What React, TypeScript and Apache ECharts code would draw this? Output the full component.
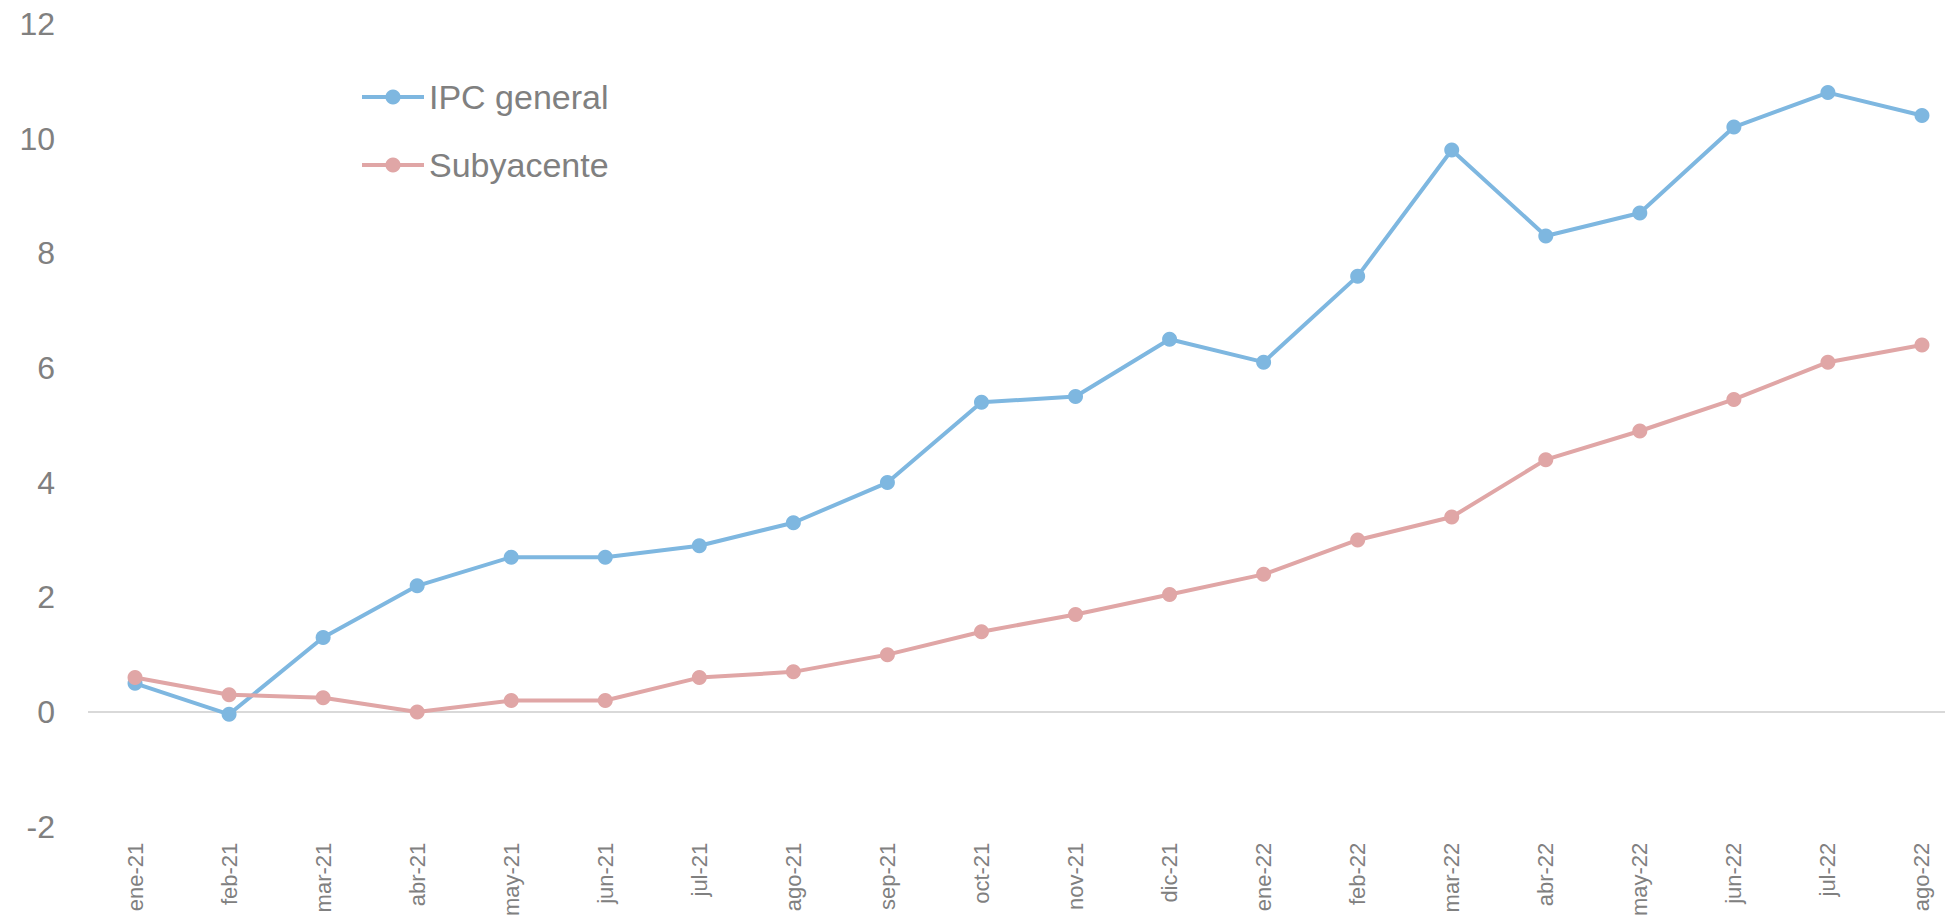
import React, { useEffect, useRef } from "react";
import * as echarts from "echarts";

const categories = [
  "ene-21", "feb-21", "mar-21", "abr-21", "may-21", "jun-21", "jul-21", "ago-21",
  "sep-21", "oct-21", "nov-21", "dic-21", "ene-22", "feb-22", "mar-22", "abr-22",
  "may-22", "jun-22", "jul-22", "ago-22",
];

const ipcGeneral = [0.5, -0.04, 1.3, 2.2, 2.7, 2.7, 2.9, 3.3, 4.0, 5.4, 5.5, 6.5, 6.1, 7.6, 9.8, 8.3, 8.7, 10.2, 10.8, 10.4];
const subyacente = [0.6, 0.3, 0.25, 0.0, 0.2, 0.2, 0.6, 0.7, 1.0, 1.4, 1.7, 2.05, 2.4, 3.0, 3.4, 4.4, 4.9, 5.45, 6.1, 6.4];

const seriesNames = ["IPC general", "Subyacente"];
const yMin = -2;
const yMax = 12;
const yStep = 2;

const BLUE = "#7EB7E0";
const PINK = "#E0A6A6";
const GRAY = "#808080";
const FONT = "'Liberation Sans', Arial, sans-serif";

export default function App() {
  const ref = useRef<HTMLDivElement>(null);
  useEffect(() => {
    document.body.style.margin = "0";
    const chart = echarts.init(ref.current!, null, { renderer: "svg" });
    const nLines = (yMax - yMin) / yStep + 1;
    const splitColors: string[] = [];
    for (let i = 0; i < nLines; i++) {
      splitColors.push(yMin + i * yStep === 0 ? "#D9D9D9" : "rgba(0,0,0,0)");
    }
    chart.setOption({
      animation: false,
      backgroundColor: "#FFFFFF",
      grid: { left: 88, right: -24, top: 23.8, bottom: 97.3, outerBoundsMode: "none", containLabel: false },
      legend: {
        data: seriesNames,
        orient: "vertical",
        left: 355,
        top: 75,
        itemWidth: 62,
        itemHeight: 19,
        itemGap: 34,
        lineStyle: { width: 4 },
        textStyle: { color: GRAY, fontSize: 34, fontFamily: FONT },
      },
      xAxis: {
        type: "category",
        data: categories,
        boundaryGap: true,
        axisLine: { show: false },
        axisTick: { show: false },
        splitLine: { show: false },
        axisLabel: {
          rotate: 90,
          interval: 0,
          margin: 16,
          color: GRAY,
          fontSize: 22,
          fontFamily: FONT,
        },
      },
      yAxis: {
        type: "value",
        min: yMin,
        max: yMax,
        interval: yStep,
        axisLine: { show: false },
        axisTick: { show: false },
        axisLabel: { color: GRAY, fontSize: 32, fontFamily: FONT, margin: 33 },
        splitLine: { show: true, lineStyle: { color: splitColors, width: 2 } },
      },
      series: [
        {
          name: seriesNames[0],
          type: "line",
          data: ipcGeneral,
          symbol: "circle",
          symbolSize: 15,
          itemStyle: { color: BLUE },
          lineStyle: { color: BLUE, width: 4 },
          z: 3,
        },
        {
          name: seriesNames[1],
          type: "line",
          data: subyacente,
          symbol: "circle",
          symbolSize: 15,
          itemStyle: { color: PINK },
          lineStyle: { color: PINK, width: 4 },
          z: 4,
        },
      ],
    });
    return () => chart.dispose();
  }, []);
  return <div ref={ref} style={{ width: 1945, height: 924 }} />;
}
